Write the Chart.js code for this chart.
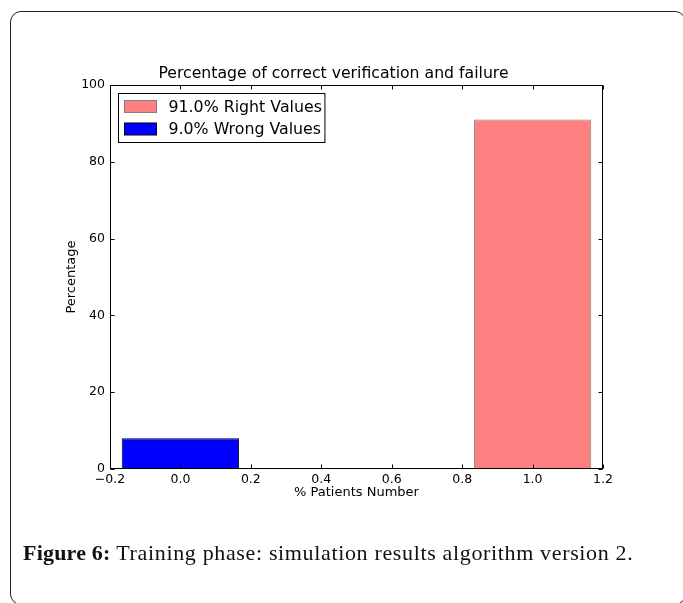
<!DOCTYPE html>
<html><head><meta charset="utf-8">
<script src="https://cdn.jsdelivr.net/npm/chart.js@4.4.0/dist/chart.umd.min.js"></script>
<style>
html,body{margin:0;padding:0;background:#fff;width:683px;height:603px;overflow:hidden;}
#frame{position:absolute;left:10px;top:11px;width:676px;height:594px;border:1.5px solid #222;border-radius:11px;box-sizing:border-box;}
#cv{position:absolute;left:0;top:0;}
#cap{position:absolute;left:23px;top:541px;font-family:"Liberation Serif",serif;font-size:22px;letter-spacing:0.65px;line-height:24px;color:#111;white-space:nowrap;}
#cap b{font-weight:bold;letter-spacing:0.2px;}
</style></head><body>
<div id="frame"></div>
<canvas id="cv" width="683" height="603"></canvas>
<div id="cap"><b>Figure 6:</b> Training phase: simulation results algorithm version 2.</div>
<script>
// ---- data ----
const seriesLabels = ['91.0% Right Values', '9.0% Wrong Values'];
const barPositions = [1.0, 0.0];
const barValues = [91, 8];
const xTickValues = [-0.2, 0.0, 0.2, 0.4, 0.6, 0.8, 1.0, 1.2];
const yTickValues = [0, 20, 40, 60, 80, 100];
const chartTitle = 'Percentage of correct verification and failure';
const xTitle = '% Patients Number';
const yTitle = 'Percentage';

// ---- styles ----
const fills = ['#ff8080', '#0000ff'];
const edges = ['#808080', '#000000'];
const BAR_WIDTH_UNITS = 1 / 3;
const TICK_STEP = 0.2;
const FONT = 'DejaVu Sans';

const fmtX = v => {
  const s = (Math.abs(v) < 1e-9 ? 0 : v).toFixed(1);
  return s.replace('-', '\u2212');
};

const frameTicks = {
  id: 'frameTicks',
  afterDatasetsDraw(chart) {
    const {ctx, chartArea: a, scales: {x, y}} = chart;
    const L = Math.round(a.left) + 0.5, R = Math.round(a.right) - 0.5;
    const T = Math.round(a.top) + 0.5, B = Math.round(a.bottom) - 0.5;
    ctx.save();
    ctx.strokeStyle = '#000';
    ctx.lineWidth = 1;
    ctx.beginPath();
    const tl = 4;
    x.ticks.forEach(t => {
      const px = Math.round(x.getPixelForValue(t.value)) + 0.5;
      ctx.moveTo(px, B); ctx.lineTo(px, B - tl);
      ctx.moveTo(px, T); ctx.lineTo(px, T + tl);
    });
    y.ticks.forEach(t => {
      const py = Math.round(y.getPixelForValue(t.value)) + 0.5;
      ctx.moveTo(L, py); ctx.lineTo(L + tl, py);
      ctx.moveTo(R, py); ctx.lineTo(R - tl, py);
    });
    ctx.stroke();
    ctx.strokeRect(L, T, R - L, B - T);
    ctx.restore();
  }
};

const boxLegend = {
  id: 'boxLegend',
  afterDraw(chart) {
    const {ctx, chartArea: a} = chart;
    const ds = chart.data.datasets;
    ctx.save();
    ctx.font = '15.8px "' + FONT + '"';
    const maxW = Math.max(...ds.map(d => ctx.measureText(d.label).width));
    const bx = Math.round(a.left) + 8.5, by = Math.round(a.top) + 8.5;
    const rowH = 22.5;
    const bw = 6 + 32 + 12 + maxW + 3;
    const bh = 49;
    ctx.fillStyle = '#fff';
    ctx.fillRect(bx, by, bw, bh);
    ctx.strokeStyle = '#000';
    ctx.lineWidth = 1;
    ctx.strokeRect(bx, by, bw, bh);
    ds.forEach((d, i) => {
      const cy = by + 13 + i * rowH;
      ctx.fillStyle = d.backgroundColor;
      ctx.fillRect(bx + 6, cy - 6, 32, 12);
      ctx.strokeStyle = d.borderColor;
      ctx.strokeRect(bx + 6, cy - 6, 32, 12);
      ctx.fillStyle = '#000';
      ctx.textBaseline = 'middle';
      ctx.textAlign = 'left';
      ctx.fillText(d.label, bx + 50, cy + 1);
    });
    ctx.restore();
  }
};

Chart.defaults.font.family = FONT;
Chart.defaults.color = '#000';

new Chart(document.getElementById('cv'), {
  type: 'bar',
  data: {
    datasets: seriesLabels.map((lab, i) => ({
      label: lab,
      data: [{x: barPositions[i], y: barValues[i]}],
      backgroundColor: fills[i],
      borderColor: edges[i],
      borderWidth: 1,
      borderSkipped: false,
      grouped: false,
      categoryPercentage: 1,
      barPercentage: BAR_WIDTH_UNITS / TICK_STEP
    }))
  },
  options: {
    responsive: false,
    animation: false,
    devicePixelRatio: 1,
    layout: {padding: {left: 64, top: 64.6, right: 80, bottom: 103}},
    plugins: {
      legend: {display: false},
      tooltip: {enabled: false},
      title: {
        display: true, text: chartTitle, color: '#000',
        font: {family: FONT, size: 15.7, weight: 'normal', lineHeight: 1.2},
        padding: {top: 0, bottom: 1.56}
      }
    },
    scales: {
      x: {
        type: 'linear', min: -0.2, max: 1.2, offset: false,
        grid: {display: false, drawTicks: false},
        border: {display: false},
        afterBuildTicks: s => { s.ticks = xTickValues.map(v => ({value: v})); },
        afterFit: s => { s.height = 31; },
        ticks: {padding: 3, font: {size: 12.5}, color: '#000', maxRotation: 0, autoSkip: false, callback: v => fmtX(v)},
        title: {display: true, text: xTitle, font: {size: 13}, padding: 0, color: '#000'}
      },
      y: {
        type: 'linear', min: 0, max: 100,
        grid: {display: false, drawTicks: false},
        border: {display: false},
        afterBuildTicks: s => { s.ticks = yTickValues.map(v => ({value: v})); },
        afterFit: s => { s.width = 46; },
        ticks: {padding: 5, font: {size: 12.5}, color: '#000', autoSkip: false},
        title: {display: true, text: yTitle, font: {size: 13}, padding: 0, color: '#000'}
      }
    }
  },
  plugins: [frameTicks, boxLegend]
});
</script>
</body></html>
